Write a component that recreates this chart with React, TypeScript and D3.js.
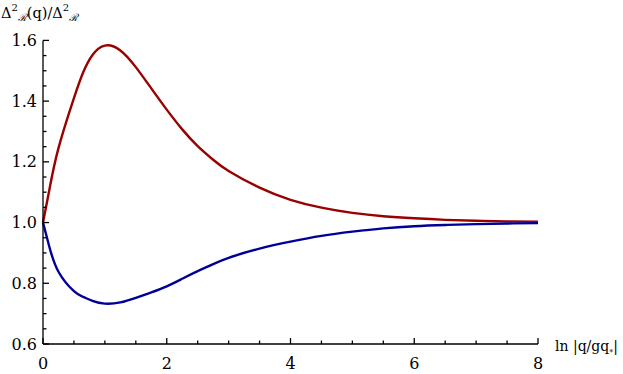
import * as d3 from "d3";

// x = ln|q/gq*|
const xs = [0, 0.1, 0.25, 0.5, 0.65, 0.8, 1, 1.25, 1.5, 1.75, 2, 2.25, 2.5, 2.75, 3, 3.5, 4, 4.5, 5, 5.5, 6, 6.5, 7, 7.5, 8];
const redVals = [1.0, 1.105, 1.245, 1.41, 1.495, 1.552, 1.583, 1.567, 1.512, 1.442, 1.372, 1.307, 1.252, 1.207, 1.17, 1.115, 1.075, 1.049, 1.032, 1.021, 1.014, 1.009, 1.006, 1.004, 1.003];
const blueVals = [1.0, 0.922, 0.838, 0.774, 0.755, 0.742, 0.733, 0.737, 0.752, 0.77, 0.79, 0.815, 0.84, 0.863, 0.884, 0.914, 0.937, 0.956, 0.97, 0.981, 0.988, 0.992, 0.995, 0.997, 0.998];

const xMajor = [0, 2, 4, 6, 8];
const yMajor = [0.6, 0.8, 1.0, 1.2, 1.4, 1.6];

const width = 623;
const height = 374;
const margin = { top: 40.4, right: 85, bottom: 30, left: 43 };

const font = "'DejaVu Serif', serif";

const App = () => {
  const x = d3
    .scaleLinear()
    .domain([0, 8])
    .range([margin.left, width - margin.right]);
  const y = d3
    .scaleLinear()
    .domain([0.6, 1.6])
    .range([height - margin.bottom, margin.top]);

  const line = d3
    .line<number>()
    .x((d, i) => x(xs[i]))
    .y((d) => y(d))
    .curve(d3.curveNatural);

  const xMinor = d3.range(0, 8.01, 0.5);
  const yMinor = d3.range(0.6, 1.601, 0.05);
  const y0 = y(0.6);
  const x0 = x(0);

  return (
    <svg
      width={width}
      height={height}
      style={{ position: "absolute", left: 0, top: 0, background: "#fff" }}
      fontFamily={font}
    >
      <path d={line(redVals) || ""} fill="none" stroke="#990000" strokeWidth={2.4} />
      <path d={line(blueVals) || ""} fill="none" stroke="#000099" strokeWidth={2.4} />

      {/* axes */}
      <line x1={x0} x2={x(8)} y1={y0} y2={y0} stroke="#000" strokeWidth={1.3} />
      <line x1={x0} x2={x0} y1={y0} y2={y(1.6)} stroke="#000" strokeWidth={1.3} />

      {xMinor.map((t) => {
        const major = Math.abs(t % 2) < 1e-6;
        return (
          <line
            key={"xt" + t}
            x1={x(t)}
            x2={x(t)}
            y1={y0}
            y2={y0 - (major ? 6 : 3.5)}
            stroke="#000"
            strokeWidth={1.3}
          />
        );
      })}
      {yMinor.map((t, i) => {
        const major = i % 4 === 0;
        return (
          <line
            key={"yt" + i}
            x1={x0}
            x2={x0 + (major ? 6 : 3.5)}
            y1={y(t)}
            y2={y(t)}
            stroke="#000"
            strokeWidth={1.3}
          />
        );
      })}

      {xMajor.map((t) => (
        <text key={"xl" + t} x={x(t)} y={y0 + 25} textAnchor="middle" fontSize={16}>
          {t}
        </text>
      ))}
      {yMajor.map((t) => (
        <text
          key={"yl" + t}
          x={x0 - 6}
          y={y(t)}
          dy="0.35em"
          textAnchor="end"
          fontSize={16}
        >
          {t.toFixed(1)}
        </text>
      ))}

      {/* axis labels */}
      <text x={1} y={18} fontSize={14.5}>
        Δ<tspan dy={-7} fontSize={10}>2</tspan>
        <tspan dy={10} fontSize={10} fontStyle="italic">ℛ</tspan>
        <tspan dy={-3}>(q)/Δ</tspan>
        <tspan dy={-7} fontSize={10}>2</tspan>
        <tspan dy={10} fontSize={10} fontStyle="italic">ℛ</tspan>
      </text>
      <text x={555} y={351} fontSize={14}>
        ln |q/gq<tspan dy={4} fontSize={8}>*</tspan>
        <tspan dy={-4}>|</tspan>
      </text>
    </svg>
  );
};

export default App;
